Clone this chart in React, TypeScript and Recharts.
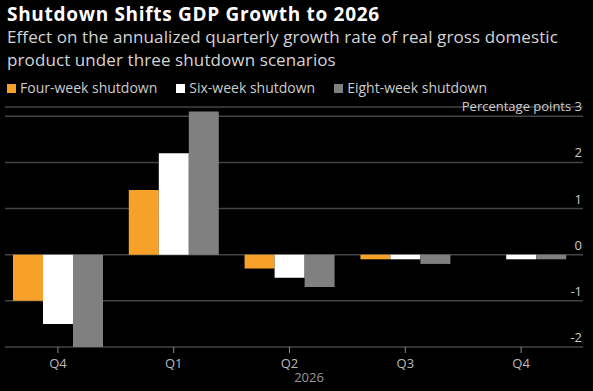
import { Bar, BarChart, CartesianGrid, XAxis, YAxis } from 'recharts';

const quarters = ['Q4', 'Q1', 'Q2', 'Q3', 'Q4'];
const fourWeek = [-1.0, 1.4, -0.3, -0.1, 0];
const sixWeek = [-1.5, 2.2, -0.5, -0.1, -0.1];
const eightWeek = [-2.0, 3.1, -0.7, -0.2, -0.1];
const yTicks = [-2, -1, 0, 1, 2, 3];

const series = [
	{ key: 'four', name: 'Four-week shutdown', color: '#f7a12b' },
	{ key: 'six', name: 'Six-week shutdown', color: '#ffffff' },
	{ key: 'eight', name: 'Eight-week shutdown', color: '#808080' },
];

const data = quarters.map((q, i) => ({
	q,
	four: fourWeek[i],
	six: sixWeek[i],
	eight: eightWeek[i],
}));

const font = '"Open Sans", sans-serif';

function YTick(props: any) {
	const { y, payload } = props;
	const label = payload.value === 3 ? 'Percentage points 3' : String(payload.value);
	return (
		<text x={582} y={y - 5} textAnchor="end" fill="#cccccc" fontSize={13} fontFamily={font}>
			{label}
		</text>
	);
}

function XTick(props: any) {
	const { x, y, payload } = props;
	return (
		<text x={x} y={y + 13} textAnchor="middle" fill="#bbbbbb" fontSize={13} fontFamily={font}>
			{payload.value}
		</text>
	);
}

function GridLine(props: any) {
	const { x1, x2, y1, y2, index } = props;
	return <line key={`g-${index}`} x1={x1 + 5} x2={x2} y1={y1} y2={y2} stroke="#444444" strokeWidth={1.5} />;
}

const subStyle = {
	position: 'absolute' as const,
	left: 7,
	fontSize: 17,
	letterSpacing: 0.1,
	lineHeight: '20px',
	height: 20,
	color: '#d4d4d4',
	whiteSpace: 'nowrap' as const,
};

export default function App() {
	return (
		<div style={{ position: 'absolute', left: 0, top: 0, width: 593, height: 391, background: '#000', fontFamily: font }}>
			<div style={{ position: 'absolute', left: 7, top: 2, fontSize: 19, fontWeight: 700, letterSpacing: 0.7, lineHeight: '24px', color: '#fff' }}>
				Shutdown Shifts GDP Growth to 2026
			</div>
			<div style={{ ...subStyle, top: 26.5 }}>Effect on the annualized quarterly growth rate of real gross domestic</div>
			<div style={{ ...subStyle, top: 50 }}>product under three shutdown scenarios</div>
			<div style={{ position: 'absolute', left: 7, top: 78, display: 'flex', fontSize: 14, lineHeight: '20px', color: '#cccccc' }}>
				{series.map((s) => (
					<div key={s.key} style={{ display: 'flex', alignItems: 'center', marginRight: 19 }}>
						<span style={{ width: 9, height: 9, background: s.color, marginRight: 4, display: 'inline-block' }} />
						{s.name}
					</div>
				))}
			</div>
			<div style={{ position: 'absolute', left: 309, top: 368, transform: 'translateX(-50%)', fontSize: 13, color: '#999999' }}>
				2026
			</div>
			<BarChart
				width={593}
				height={391}
				data={data}
				margin={{ top: 107, right: 0, left: 0, bottom: 14 }}
				barGap={0}
				barSize={30}
			>
				<CartesianGrid vertical={false} horizontal={GridLine as any} stroke="#444444" />
				<XAxis
					dataKey="q"
					height={30}
					axisLine={false}
					tickLine={{ stroke: '#888888' }}
					tickSize={6}
					padding={{ left: 0, right: 4 }}
					tick={<XTick />}
					interval={0}
				/>
				<YAxis
					orientation="right"
					width={10}
					domain={[-2, 3.2]}
					ticks={yTicks}
					axisLine={false}
					tickLine={false}
					tick={<YTick />}
				/>
				{series.map((s) => (
					<Bar key={s.key} dataKey={s.key} name={s.name} fill={s.color} isAnimationActive={false} />
				))}
			</BarChart>
		</div>
	);
}
